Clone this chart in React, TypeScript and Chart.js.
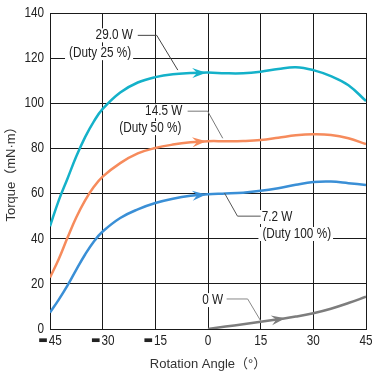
import { useEffect, useRef } from "react";
import { Chart, registerables } from "chart.js";
Chart.register(...registerables);

// ---- data ----
const ANGLES = [-45, -42.5, -40, -37.5, -35, -32.5, -30, -25, -20, -15, -10, -5, 0, 5, 10, 15, 20, 25, 30, 35, 40, 45];
const TORQUE_29W = [45.5, 57, 66.7, 76.5, 85, 92, 97.5, 104.8, 109.2, 111.6, 112.9, 113.4, 113.6, 113.3, 113.3, 114, 115.2, 116, 114.7, 112, 108, 101];
const TORQUE_14W = [22.8, 31, 40.5, 49.5, 57, 63, 67.5, 73.5, 77.8, 80.2, 81.7, 82.7, 83.2, 83.2, 83.3, 83.7, 84.7, 85.8, 86.3, 86, 84.5, 81.9];
const TORQUE_7W = [7.3, 13, 19.3, 26.3, 33, 38.8, 43.2, 49.2, 53, 55.8, 57.7, 59, 59.7, 60, 60.4, 61.2, 62.4, 63.9, 65.1, 65.3, 64.6, 63.8];
const ANGLES_0W = [0, 5, 10, 15, 20, 25, 30, 35, 40, 45];
const TORQUE_0W = [0, 1.1, 2.1, 3.2, 4.3, 5.5, 7, 9, 11.5, 14.3];

const SERIES_NAMES = ["29.0W", "14.5W", "7.2W", "0W"];
const SERIES_COLORS = ["#14b1c9", "#f68b5c", "#3a8fd6", "#7d7d7d"];
const ARROW_AT = [-0.5, -0.5, -0.5, 22];

const Y_MIN = 0, Y_MAX = 140, Y_STEP = 20;
const X_MIN = -45, X_MAX = 45, X_STEP = 15;
const Y_TICKS = [0, 20, 40, 60, 80, 100, 120, 140];
const X_TICKS = [-45, -30, -15, 0, 15, 30, 45];

// annotation text and anchors (angle, torque)
const LABEL_TEXTS = ["29.0 W", "(Duty 25 %)", "14.5 W", "(Duty 50 %)", "7.2 W", "(Duty 100 %)", "0 W"];
const LABEL_AT: [number, number, CanvasTextAlign][] = [
  [-21.4, 130.1, "right"],
  [-21.9, 122.2, "right"],
  [-7.3, 96.5, "right"],
  [-7.6, 89.0, "right"],
  [15.3, 49.6, "left"],
  [15.5, 42.1, "left"],
  [4.3, 12.8, "right"],
];
const LEADERS: { pts: [number, number][]; color: string }[] = [
  { pts: [[-20.0, 130.1], [-14.6, 130.1], [-8.6, 114.7]], color: "#444" },
  { pts: [[-5.8, 96.5], [-0.1, 96.5], [4.2, 84.5]], color: "#777" },
  { pts: [[4.7, 60.2], [8.4, 50.0], [15.0, 50.0]], color: "#555" },
  { pts: [[5.3, 13.3], [11.3, 13.3], [15.2, 3.1]], color: "#888" },
];

const FONT_BASE = "'Liberation Sans', Arial, sans-serif";
const FONT_TITLE = "'Liberation Sans', 'Noto Sans CJK JP', sans-serif";
const SX = 0.84; // horizontal condensing of label text

function interp(xs: number[], ys: number[], a: number) {
  for (let i = 0; i < xs.length - 1; i++) {
    if (a >= xs[i] && a <= xs[i + 1]) {
      const t = (a - xs[i]) / (xs[i + 1] - xs[i]);
      return ys[i] + t * (ys[i + 1] - ys[i]);
    }
  }
  return ys[ys.length - 1];
}

function drawText(ctx: CanvasRenderingContext2D, txt: string, x: number, y: number, align: CanvasTextAlign) {
  ctx.save();
  ctx.translate(x, y);
  ctx.scale(SX, 1);
  ctx.textAlign = align;
  ctx.textBaseline = "middle";
  ctx.fillText(txt, 0, 0);
  ctx.restore();
}

const annoPlugin = {
  id: "anno",
  afterDatasetsDraw(chart: any) {
    const { ctx, scales } = chart;
    const x = scales.x, y = scales.y;
    const px = (a: number) => x.getPixelForValue(a);
    const py = (t: number) => y.getPixelForValue(t);
    ctx.save();
    ctx.font = `14px ${FONT_BASE}`;
    // white boxes
    LABEL_TEXTS.forEach((txt, i) => {
      const [a, t, al] = LABEL_AT[i];
      const w = ctx.measureText(txt).width * SX;
      const X = px(a), Y = py(t);
      const left = al === "right" ? X - w : X;
      ctx.fillStyle = "#fff";
      ctx.fillRect(left - 4, Y - 7, w + 6, 14);
    });
    // leaders
    LEADERS.forEach((L) => {
      ctx.beginPath();
      L.pts.forEach(([a, t], i) => (i ? ctx.lineTo(px(a), py(t)) : ctx.moveTo(px(a), py(t))));
      ctx.strokeStyle = L.color;
      ctx.lineWidth = 1;
      ctx.stroke();
    });
    // text
    ctx.fillStyle = "#222";
    LABEL_TEXTS.forEach((txt, i) => {
      const [a, t, al] = LABEL_AT[i];
      drawText(ctx, txt, px(a), py(t), al);
    });
    // arrowheads
    chart.data.datasets.forEach((ds: any, i: number) => {
      const xs = ds.data.map((d: any) => d.x);
      const ys = ds.data.map((d: any) => d.y);
      const a = ARROW_AT[i];
      const tx = px(a), ty = py(interp(xs, ys, a));
      const bx = px(a - 2), by = py(interp(xs, ys, a - 2));
      let dx = tx - bx, dy = ty - by;
      const len = Math.hypot(dx, dy);
      dx /= len; dy /= len;
      const nx = -dy, ny = dx;
      const L = 14, W = 5;
      ctx.beginPath();
      ctx.moveTo(tx, ty);
      ctx.lineTo(tx - L * dx + W * nx, ty - L * dy + W * ny);
      ctx.lineTo(tx - 0.65 * L * dx, ty - 0.65 * L * dy);
      ctx.lineTo(tx - L * dx - W * nx, ty - L * dy - W * ny);
      ctx.closePath();
      ctx.fillStyle = ds.borderColor;
      ctx.fill();
    });
    ctx.restore();
  },
  afterDraw(chart: any) {
    const { ctx, scales } = chart;
    const x = scales.x, y = scales.y;
    ctx.save();
    ctx.fillStyle = "#222";
    ctx.font = `14px ${FONT_BASE}`;
    // y tick labels
    Y_TICKS.forEach((v) => drawText(ctx, String(v), x.left - 6, y.getPixelForValue(v), "right"));
    // x tick labels
    const ty = y.bottom + 12;
    X_TICKS.forEach((v) => {
      const num = String(Math.abs(v));
      ctx.font = `14px ${FONT_BASE}`;
      const w = ctx.measureText(num).width * SX;
      const cx = x.getPixelForValue(v);
      if (v < 0) {
        ctx.font = `10px 'DejaVu Sans', sans-serif`;
        const dw = ctx.measureText("\u25AC").width;
        const dashW = 9.5;
        const total = dashW + 1 + w;
        const start = cx - total / 2;
        ctx.save();
        ctx.translate(start, ty - 1);
        ctx.scale(dashW / dw, 1);
        ctx.textAlign = "left";
        ctx.textBaseline = "middle";
        ctx.fillText("\u25AC", 0, 0);
        ctx.restore();
        ctx.font = `14px ${FONT_BASE}`;
        drawText(ctx, num, start + dashW + 1, ty, "left");
      } else {
        drawText(ctx, num, cx, ty, "center");
      }
    });
    ctx.restore();
  },
};

export default function App() {
  const ref = useRef<HTMLCanvasElement>(null);
  useEffect(() => {
    document.body.style.margin = "0";
    const seriesX = [ANGLES, ANGLES, ANGLES, ANGLES_0W];
    const seriesY = [TORQUE_29W, TORQUE_14W, TORQUE_7W, TORQUE_0W];
    const chart = new Chart(ref.current!, {
      type: "line",
      data: {
        datasets: seriesY.map((ys, i) => ({
          label: SERIES_NAMES[i],
          data: ys.map((v, j) => ({ x: seriesX[i][j], y: v })),
          borderColor: SERIES_COLORS[i],
          backgroundColor: SERIES_COLORS[i],
          borderWidth: 2.5,
          pointRadius: 0,
          tension: 0.4,
          fill: false,
        })),
      },
      options: {
        animation: false,
        responsive: false,
        layout: { padding: { top: 13, right: 14, left: 0, bottom: 0 } },
        plugins: { legend: { display: false }, tooltip: { enabled: false } },
        scales: {
          x: {
            type: "linear",
            min: X_MIN,
            max: X_MAX,
            ticks: { stepSize: X_STEP, display: false },
            grid: { color: "#1a1a1a", drawTicks: false, lineWidth: 1 },
            border: { color: "#1a1a1a" },
            title: {
              display: true,
              text: "Rotation Angle（°）",
              font: { family: FONT_TITLE, size: 13 },
              color: "#333",
              padding: { top: 0, bottom: 0 },
            },
            afterFit: (s: any) => {
              s.height = 43;
            },
          },
          y: {
            min: Y_MIN,
            max: Y_MAX,
            ticks: { stepSize: Y_STEP, display: false },
            grid: { color: "#1a1a1a", drawTicks: false, lineWidth: 1 },
            border: { color: "#1a1a1a" },
            title: {
              display: true,
              text: "Torque（mN·m）",
              font: { family: FONT_TITLE, size: 13 },
              color: "#333",
              padding: { top: 4, bottom: 0 },
            },
            afterFit: (s: any) => {
              s.width = 50;
            },
          },
        },
      },
      plugins: [annoPlugin],
    });
    return () => chart.destroy();
  }, []);
  return <canvas ref={ref} width={380} height={372} style={{ display: "block" }} />;
}
